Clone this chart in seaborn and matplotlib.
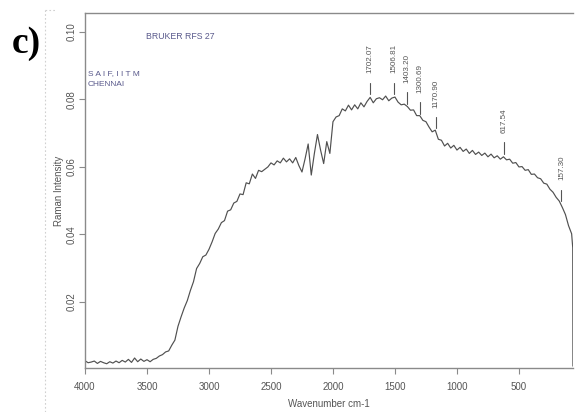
import numpy as np
import pandas as pd
import matplotlib
matplotlib.use("Agg")
import matplotlib.pyplot as plt
from matplotlib.lines import Line2D
import seaborn as sns

# Raman spectrum, wavenumber grid (cm-1) and intensity (x 1e-3)
wavenumber = [
    4000, 3975, 3950, 3925, 3900, 3875, 3850, 3825, 3800, 3775,
    3750, 3725, 3700, 3675, 3650, 3625, 3600, 3575, 3550, 3525,
    3500, 3475, 3450, 3425, 3400, 3375, 3350, 3325, 3300, 3275,
    3250, 3225, 3200, 3175, 3150, 3125, 3100, 3075, 3050, 3025,
    3000, 2975, 2950, 2925, 2900, 2875, 2850, 2825, 2800, 2775,
    2750, 2725, 2700, 2675, 2650, 2625, 2600, 2575, 2550, 2525,
    2500, 2475, 2450, 2425, 2400, 2375, 2350, 2325, 2300, 2275,
    2250, 2225, 2200, 2175, 2150, 2125, 2100, 2075, 2050, 2025,
    2000, 1975, 1950, 1925, 1900, 1875, 1850, 1825, 1800, 1775,
    1750, 1725, 1700, 1675, 1650, 1625, 1600, 1575, 1550, 1525,
    1500, 1475, 1450, 1425, 1400, 1375, 1350, 1325, 1300, 1275,
    1250, 1225, 1200, 1175, 1150, 1125, 1100, 1075, 1050, 1025,
    1000, 975, 950, 925, 900, 875, 850, 825, 800, 775,
    750, 725, 700, 675, 650, 625, 600, 575, 550, 525,
    500, 475, 450, 425, 400, 375, 350, 325, 300, 275,
    250, 225, 200, 175, 150, 125, 100, 75, 66, 64.5,
]
intensity_milli = [
    2.6, 2.0, 2.2, 2.5, 1.8, 2.4, 2.0, 1.7, 2.3, 1.9,
    2.5, 2.0, 2.7, 2.2, 3.0, 2.1, 3.4, 2.3, 3.1, 2.4,
    2.9, 2.3, 3.0, 3.3, 4.0, 4.4, 5.2, 5.5, 7.2, 8.7,
    12.8, 15.6, 18.2, 20.4, 23.4, 26.0, 29.9, 31.4, 33.4, 33.9,
    35.6, 37.8, 40.3, 41.6, 43.5, 44.1, 46.9, 47.3, 49.3, 49.8,
    52.0, 51.8, 55.3, 55.0, 57.9, 56.6, 59.0, 58.6, 59.3, 60.0,
    61.2, 60.6, 61.8, 61.2, 62.6, 61.5, 62.4, 61.2, 62.8, 60.4,
    58.5, 62.4, 66.8, 57.6, 64.0, 69.6, 65.0, 61.0, 67.5, 64.0,
    73.4, 74.8, 75.2, 77.2, 76.6, 78.3, 76.9, 78.4, 77.2, 79.0,
    77.8, 79.4, 80.6, 79.0, 80.2, 80.5, 79.9, 81.0, 79.6, 80.4,
    80.7, 79.2, 78.4, 78.6, 77.9, 76.8, 76.9, 75.2, 75.2, 73.8,
    73.4, 71.8, 70.4, 70.9, 68.2, 67.9, 66.2, 67.0, 65.6, 66.4,
    65.0, 65.8, 64.6, 65.3, 64.0, 64.9, 63.7, 64.4, 63.4, 64.1,
    63.0, 63.8, 62.7, 63.3, 62.3, 63.0, 62.1, 62.3, 61.1, 61.3,
    60.0, 60.1, 59.0, 59.2, 57.8, 57.9, 56.8, 56.5, 55.2, 54.9,
    53.4, 52.5, 51.0, 49.9, 48.0, 45.9, 42.6, 40.2, 36.0, 1.0,
]

# Labelled peaks and the curve height under each label
peak_labels = ["1702.07", "1506.81", "1403.20", "1300.69", "1170.90", "617.54", "157.30"]
peak_heights = [0.0805, 0.0805, 0.0776, 0.0746, 0.0704, 0.0628, 0.0488]

x_ticks = [4000, 3500, 3000, 2500, 2000, 1500, 1000, 500]
y_ticks = [0.02, 0.04, 0.06, 0.08, 0.10]
y_tick_labels = ["0.02", "0.04", "0.06", "0.08", "0.10"]

df = pd.DataFrame({
    "Wavenumber": wavenumber,
    "Intensity": np.array(intensity_milli) * 1e-3,
})

sns.set_theme(style="white")
plt.rcParams["font.family"] = ["Liberation Sans", "DejaVu Sans"]

W, H = 575, 412
fig = plt.figure(figsize=(W / 100, H / 100), dpi=100)
ax = fig.add_axes([85 / W, 1 - 368 / H, (573 - 85) / W, (368 - 13) / H])

sns.lineplot(data=df, x="Wavenumber", y="Intensity", ax=ax, color="#505050",
             linewidth=0.85, sort=False, estimator=None)

ax.set_xlim(4000, 64)
ax.set_ylim(0.00044, 0.1056)

ax.set_xticks(x_ticks)
ax.set_xticklabels([str(t) for t in x_ticks])
ax.set_yticks(y_ticks)
ax.set_yticklabels(y_tick_labels, rotation=90, va="center")

grey = "#8a8a8a"
ax.tick_params(axis="both", direction="out", length=4, width=0.8, color=grey,
               labelsize=7, labelcolor="#555555", bottom=True, left=True)
ax.tick_params(axis="x", pad=6)
ax.tick_params(axis="y", pad=2)

for side in ["top", "left", "bottom"]:
    ax.spines[side].set_visible(True)
    ax.spines[side].set_color(grey)
    ax.spines[side].set_linewidth(1.0)
ax.spines["right"].set_visible(False)

ax.set_xlabel("Wavenumber cm-1", fontsize=7, color="#555555", labelpad=5)
ax.set_ylabel("Raman Intensity", fontsize=7, color="#555555", labelpad=2)

# Peak labels: short tick above the curve with the rotated wavenumber
for lab, h in zip(peak_labels, peak_heights):
    w = float(lab)
    ax.plot([w, w], [h + 0.0010, h + 0.0045], color="#555555", linewidth=0.8)
    ax.text(w, h + 0.0072, lab, rotation=90, ha="center", va="bottom",
            fontsize=5.8, color="#555555")

# Instrument tags
tag_color = "#5a5a8c"
ax.text(0.125, 0.935, "BRUKER RFS 27", transform=ax.transAxes, fontsize=6.3,
        color=tag_color, ha="left", va="center")
ax.text(0.006, 0.830, "S A I F, I I T M", transform=ax.transAxes, fontsize=6.0,
        color=tag_color, ha="left", va="center")
ax.text(0.006, 0.799, "CHENNAI", transform=ax.transAxes, fontsize=6.0,
        color=tag_color, ha="left", va="center")

# Panel letter
fig.text(12 / W, 1 - 53 / H, "c)", fontsize=27, fontweight="bold",
         family="Liberation Serif", color="black", ha="left", va="baseline")

# Faint dotted frame at the left of the panel
fig.add_artist(Line2D([45 / W, 45 / W], [0, 1 - 10 / H], color="#d0d0d0",
                      linewidth=0.8, linestyle=(0, (1.5, 2))))
fig.add_artist(Line2D([45 / W, 56 / W], [1 - 10 / H, 1 - 10 / H], color="#d0d0d0",
                      linewidth=0.8, linestyle=(0, (1.5, 2))))

fig.savefig("out.png", dpi=100)
